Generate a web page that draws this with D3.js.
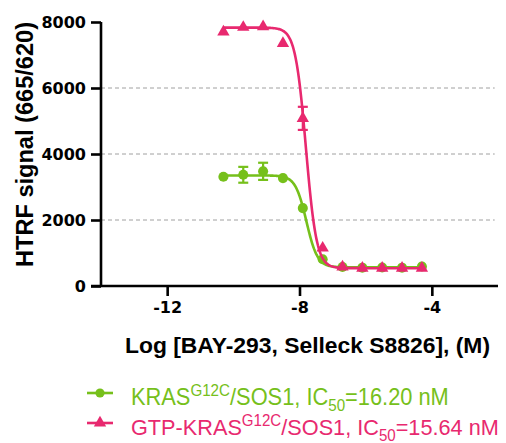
<!DOCTYPE html>
<html>
<head>
<meta charset="utf-8">
<script src="https://cdn.jsdelivr.net/npm/d3@7"></script>
<style>
  body { margin: 0; background: #fff; }
  svg { font-family: "Liberation Sans", Arial, sans-serif; }
</style>
</head>
<body>
<div id="chart"></div>
<script>
// log concentrations (M), 4-fold dilution series
const logConc = [-10.3, -9.7, -9.1, -8.5, -7.9, -7.3, -6.7, -6.1, -5.5, -4.9, -4.3]

// KRAS G12C / SOS1
const kras = [3310, 3370, 3475, 3270, 2360, 810, 575, 555, 560, 555, 590]
const krasErr = [0, 240, 260, 0, 0, 0, 0, 0, 0, 0, 0]
// GTP-KRAS G12C / SOS1
const gtp = [7700, 7840, 7860, 7350, 5080, 1150, 580, 540, 540, 540, 540]
const gtpErr = [0, 0, 0, 0, 350, 0, 0, 0, 0, 0, 0]

// 4PL fit parameters: [bottom, top, logIC50, hill]
const krasFit = [565, 3350, Math.log10(16.20e-9), 2.6]
const gtpFit = [540, 7830, Math.log10(15.64e-9), 2.7]

const yTicks = [0, 2000, 4000, 6000, 8000]
const xTicks = [-12, -8, -4]

const green = "#76c01b"
const pink = "#e8296f"

const W = 506, H = 443
const margin = {left: 101, top: 22, right: 8, bottom: 157}

let svg = d3.select("#chart").append("svg")
    .attr("width", W)
    .attr("height", H)

let x = d3.scaleLinear().domain([-14, -2]).range([margin.left, W - margin.right])
let y = d3.scaleLinear().domain([0, 8000]).range([H - margin.bottom, margin.top])

// grid
svg.append("g").selectAll("line")
    .data(yTicks.filter(d => d > 0 && d < 8000))
    .enter().append("line")
        .attr("x1", x(-14)).attr("x2", x(-2.1))
        .attr("y1", d => y(d)).attr("y2", d => y(d))
        .attr("stroke", "#a0a0a0")
        .attr("stroke-width", 1)
        .attr("stroke-dasharray", "4,3")

// axes
let yAxis = svg.append("g")
    .attr("transform", `translate(${x(-14)},0)`)
    .call(d3.axisLeft(y).tickValues(yTicks).tickFormat(d3.format("d")).tickSize(10).tickPadding(5).tickSizeOuter(0))
let xAxis = svg.append("g")
    .attr("transform", `translate(0,${y(0)})`)
    .call(d3.axisBottom(x).tickValues(xTicks).tickFormat(d3.format("d")).tickSize(10).tickPadding(6).tickSizeOuter(0))

for (let ax of [yAxis, xAxis]) {
    ax.selectAll("path, line").attr("stroke", "#000").attr("stroke-width", 2.6)
    ax.selectAll("text")
        .attr("fill", "#000")
        .style("font-family", "'DejaVu Sans', sans-serif")
        .style("font-size", "16px")
        .style("font-weight", "bold")
}
xAxis.selectAll("text").text(d => String(d).replace("\u2212", "-"))
xAxis.select(".domain").attr("d", `M${x(-14) - 10},0H${x(-2)}`)
yAxis.select(".domain").attr("d", `M0,${y(0)}V${y(8000)}`)

// axis titles
svg.append("text")
    .attr("x", 125).attr("y", 353)
    .attr("textLength", 365).attr("lengthAdjust", "spacingAndGlyphs")
    .style("font-size", "22px").style("font-weight", "bold")
    .text("Log [BAY-293, Selleck S8826], (M)")
svg.append("text")
    .attr("transform", `translate(33,267) rotate(-90)`)
    .attr("textLength", 245).attr("lengthAdjust", "spacingAndGlyphs")
    .style("font-size", "23px").style("font-weight", "bold")
    .text("HTRF signal (665/620)")

function fourPL(p) {
    let [bottom, top, ic, hill] = p
    return v => bottom + (top - bottom) / (1 + Math.pow(10, (v - ic) * hill))
}

function drawSeries(vals, errs, fit, color, shape) {
    let g = svg.append("g")
    let f = fourPL(fit)
    let xs = d3.range(logConc[0], logConc[logConc.length - 1] + 0.001, 0.02)
    g.append("path")
        .datum(xs)
        .attr("fill", "none")
        .attr("stroke", color)
        .attr("stroke-width", 2.6)
        .attr("d", d3.line().x(d => x(d)).y(d => y(f(d))))

    let pts = logConc.map((c, i) => ({c: c, v: vals[i], e: errs[i]}))
    let eb = g.selectAll(".err").data(pts.filter(d => d.e > 0)).enter().append("g")
    eb.append("line")
        .attr("x1", d => x(d.c)).attr("x2", d => x(d.c))
        .attr("y1", d => y(d.v - d.e)).attr("y2", d => y(d.v + d.e))
        .attr("stroke", color).attr("stroke-width", 2.2)
    for (let s of [-1, 1]) {
        eb.append("line")
            .attr("x1", d => x(d.c) - 5).attr("x2", d => x(d.c) + 5)
            .attr("y1", d => y(d.v + s * d.e)).attr("y2", d => y(d.v + s * d.e))
            .attr("stroke", color).attr("stroke-width", 2.2)
    }

    g.selectAll(".pt").data(pts).enter().append("path")
        .attr("transform", d => `translate(${x(d.c)},${y(d.v)})`)
        .attr("d", d3.symbol().type(shape).size(shape === d3.symbolCircle ? 80 : 66))
        .attr("fill", color)
}

drawSeries(kras, krasErr, krasFit, green, d3.symbolCircle)
drawSeries(gtp, gtpErr, gtpFit, pink, d3.symbolTriangle)

// legend
const legendItems = [
    {color: green, shape: d3.symbolCircle, pre: "KRAS", post: "/SOS1, IC", ic: "=16.20 nM", len: 318},
    {color: pink, shape: d3.symbolTriangle, pre: "GTP-KRAS", post: "/SOS1, IC", ic: "=15.64 nM", len: 368}
]
let leg = svg.selectAll(".leg").data(legendItems).enter().append("g")
    .attr("transform", (d, i) => `translate(87,${393 + i * 30})`)
leg.append("line")
    .attr("x1", 0).attr("x2", 26)
    .attr("stroke", d => d.color).attr("stroke-width", 2.6)
leg.append("path")
    .attr("transform", "translate(13,0)")
    .attr("d", d => d3.symbol().type(d.shape).size(66)())
    .attr("fill", d => d.color)
let lt = leg.append("g")
    .attr("transform", "translate(44,12)")
    .append("text")
    .attr("fill", d => d.color)
    .style("font-size", "23px")
lt.append("tspan").text(d => d.pre)
lt.append("tspan").attr("dy", -9).style("font-size", "16px").text("G12C")
lt.append("tspan").attr("dy", 9).text(d => d.post)
lt.append("tspan").attr("dy", 6).style("font-size", "16px").text("50")
lt.append("tspan").attr("dy", -6).text(d => d.ic)
// squeeze the legend text horizontally to the reference width
lt.each(function(d) {
    let w = this.getComputedTextLength()
    d3.select(this.parentNode).attr("transform", `translate(44,12) scale(${d.len / w},1)`)
})
</script>
</body>
</html>
